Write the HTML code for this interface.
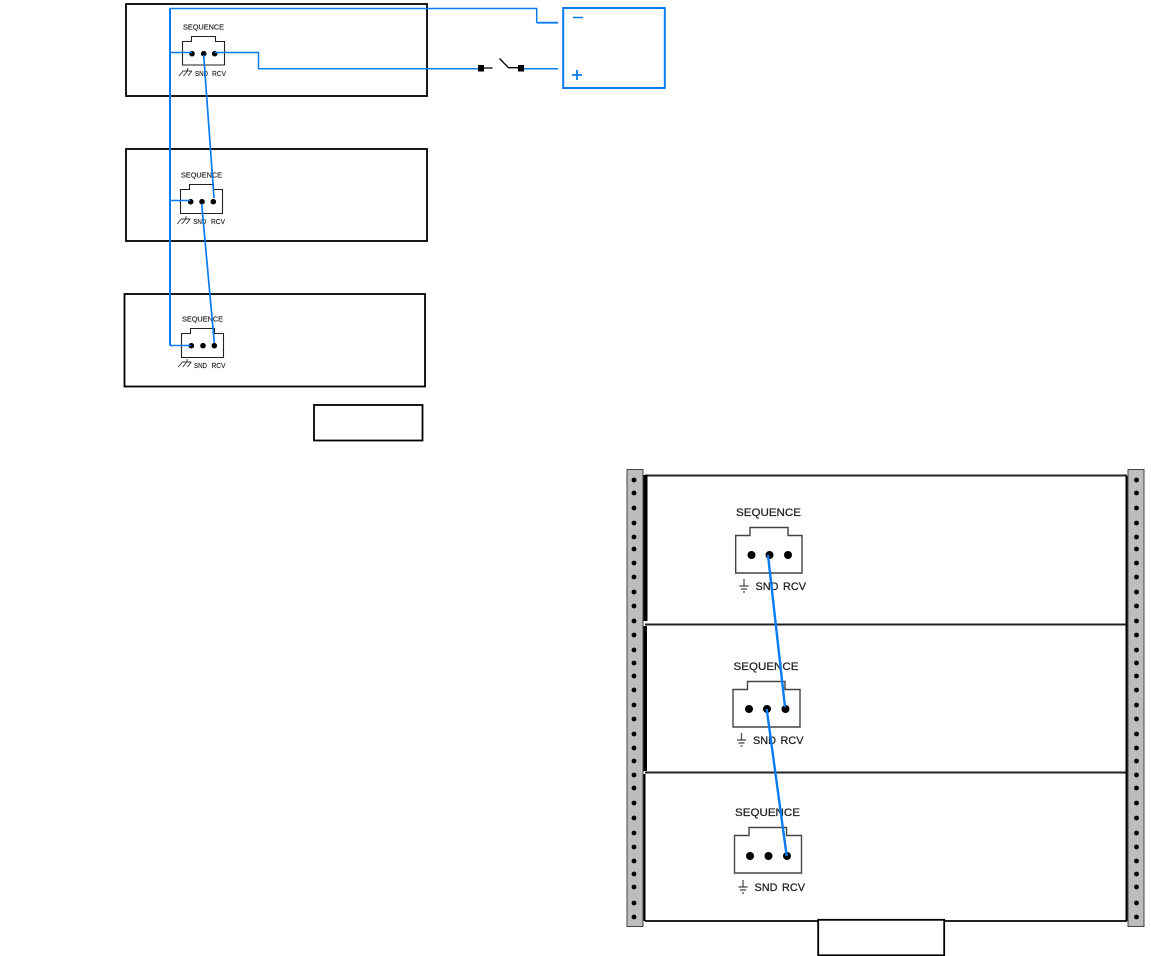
<!DOCTYPE html>
<html>
<head>
<meta charset="utf-8">
<style>
html,body{margin:0;padding:0;background:#fff;width:1151px;height:956px;overflow:hidden}
svg{display:block;position:absolute;left:0;top:0}
text{font-family:"Liberation Sans",sans-serif;fill:#222}
</style>
</head>
<body>
<svg width="1151" height="956" viewBox="0 0 1151 956" xmlns="http://www.w3.org/2000/svg">
<!-- top-left boxes -->
<g fill="none" stroke="#000" stroke-width="1.800">
<rect x="126" y="4" width="301" height="92"/>
<rect x="126" y="149" width="301" height="92"/>
<rect x="124.500" y="294" width="300.500" height="92.500"/>
<rect x="314" y="405" width="108.500" height="35.500"/>
</g>

<!-- small connectors -->
<g fill="none" stroke="#222" stroke-width="1.100">
<path d="M182.500 41.500H191.500V36.500H215.500V41.500H224.500V65H182.500Z"/>
<path d="M180.500 189.500H189.500V184.500H213.500V189.500H222.500V213.500H180.500Z"/>
<path d="M181.500 333.500H190.500V328.500H214.500V333.500H223.500V357.500H181.500Z"/>
</g>
<g fill="#000">
<circle cx="192" cy="53.700" r="2.800"/><circle cx="203.700" cy="53.700" r="2.800"/><circle cx="214.700" cy="53.700" r="2.800"/>
<circle cx="190.700" cy="201.700" r="2.800"/><circle cx="202" cy="201.700" r="2.800"/><circle cx="213.300" cy="201.700" r="2.800"/>
<circle cx="191.300" cy="345.700" r="2.800"/><circle cx="203" cy="345.700" r="2.800"/><circle cx="214.300" cy="345.700" r="2.800"/>
</g>
<g font-size="7.200" stroke="#222" stroke-width="0.150">
<text x="183" y="29.300" textLength="41" lengthAdjust="spacingAndGlyphs">SEQUENCE</text>
<text x="195" y="75.800" textLength="13" lengthAdjust="spacingAndGlyphs">SND</text>
<text x="212" y="75.800" textLength="14" lengthAdjust="spacingAndGlyphs">RCV</text>
<text x="181" y="177.500" textLength="41" lengthAdjust="spacingAndGlyphs">SEQUENCE</text>
<text x="193.300" y="223.800" textLength="13" lengthAdjust="spacingAndGlyphs">SND</text>
<text x="211" y="223.800" textLength="14" lengthAdjust="spacingAndGlyphs">RCV</text>
<text x="182" y="321.300" textLength="41" lengthAdjust="spacingAndGlyphs">SEQUENCE</text>
<text x="194" y="367.800" textLength="13" lengthAdjust="spacingAndGlyphs">SND</text>
<text x="211.500" y="367.800" textLength="14" lengthAdjust="spacingAndGlyphs">RCV</text>
</g>
<!-- small ground symbols -->
<g fill="none" stroke="#333" stroke-width="0.900">
<path d="M183 71H192M187.700 68V71M183 71L179 76M187.500 71L183.500 76M192 71L188 76"/>
<path d="M181.300 219H190.300M186 216V219M181.300 219L177.300 224M185.800 219L181.800 224M190.300 219L186.300 224"/>
<path d="M182.300 362H191.300M187 359V362M182.300 362L178.300 367M186.800 362L182.800 367M191.300 362L187.300 367"/>
</g>

<!-- blue wiring, top diagram -->
<g fill="none" stroke="#0a7cf0" stroke-width="1.500">
<path d="M170 345.500V8.500H536.700V22.700" />
<path d="M536.700 22.700H558" stroke-width="1.800"/>
<path d="M170 345.500H191"/>
<path d="M170 52.500H192"/>
<path d="M170 200.500H190"/>
<path d="M214.700 52.500H258.500V68.700H480"/>
<path d="M522 68.700H558"/>
<path d="M203.700 55L214 198" stroke-width="1.700"/>
<path d="M201.700 204L214.300 343" stroke-width="1.700"/>
<path d="M170 8.500V345.500" stroke-width="2"/>
<rect x="563.200" y="8" width="101.600" height="80" stroke-width="2"/>
<path d="M573 17.500H583" />
<path d="M572 75H582M577 70V80" stroke-width="1.800"/>
</g>
<!-- switch -->
<g fill="#000" stroke="none">
<rect x="478" y="65" width="6" height="6.500"/>
<rect x="518" y="65" width="6" height="6.500"/>
</g>
<path d="M484 68H492.500M499.500 58.500L508.500 67.700H518" fill="none" stroke="#000" stroke-width="1.300"/>

<!-- rack -->
<g fill="none" stroke="#222" stroke-width="2">
<path d="M645 475.500H1127"/>
<path d="M645 624.500H1127"/>
<path d="M645 772.500H1127"/>
<path d="M645 921H1127"/>
</g>
<rect x="643" y="475" width="4.500" height="146" fill="#000"/>
<rect x="643" y="626" width="4" height="145" fill="#000"/>
<rect x="643" y="774" width="2.500" height="147" fill="#000"/>
<rect x="1125.500" y="476" width="3" height="445" fill="#000"/>
<rect x="627" y="469.500" width="16" height="457" fill="#bdbdbd" stroke="#444" stroke-width="1"/>
<rect x="1128" y="469.500" width="16" height="457" fill="#bdbdbd" stroke="#444" stroke-width="1"/>
<g fill="#000">
<circle cx="634" cy="480" r="2.400"/><circle cx="634" cy="493" r="2.400"/><circle cx="634" cy="508" r="2.400"/><circle cx="634" cy="523" r="2.400"/><circle cx="634" cy="537" r="2.400"/><circle cx="634" cy="549" r="2.400"/><circle cx="634" cy="563" r="2.400"/><circle cx="634" cy="577" r="2.400"/><circle cx="634" cy="592" r="2.400"/><circle cx="634" cy="606" r="2.400"/><circle cx="634" cy="621" r="2.400"/><circle cx="634" cy="635" r="2.400"/><circle cx="634" cy="650" r="2.400"/><circle cx="634" cy="663" r="2.400"/><circle cx="634" cy="676" r="2.400"/><circle cx="634" cy="690" r="2.400"/><circle cx="634" cy="705" r="2.400"/><circle cx="634" cy="719" r="2.400"/><circle cx="634" cy="734" r="2.400"/><circle cx="634" cy="748" r="2.400"/><circle cx="634" cy="761" r="2.400"/><circle cx="634" cy="775" r="2.400"/><circle cx="634" cy="788" r="2.400"/><circle cx="634" cy="803" r="2.400"/><circle cx="634" cy="818" r="2.400"/><circle cx="634" cy="833" r="2.400"/><circle cx="634" cy="847" r="2.400"/><circle cx="634" cy="861" r="2.400"/><circle cx="634" cy="874" r="2.400"/><circle cx="634" cy="887" r="2.400"/><circle cx="634" cy="903" r="2.400"/><circle cx="634" cy="917" r="2.400"/>
<circle cx="1136.500" cy="480" r="2.400"/><circle cx="1136.500" cy="493" r="2.400"/><circle cx="1136.500" cy="508" r="2.400"/><circle cx="1136.500" cy="523" r="2.400"/><circle cx="1136.500" cy="537" r="2.400"/><circle cx="1136.500" cy="549" r="2.400"/><circle cx="1136.500" cy="563" r="2.400"/><circle cx="1136.500" cy="577" r="2.400"/><circle cx="1136.500" cy="592" r="2.400"/><circle cx="1136.500" cy="606" r="2.400"/><circle cx="1136.500" cy="621" r="2.400"/><circle cx="1136.500" cy="635" r="2.400"/><circle cx="1136.500" cy="650" r="2.400"/><circle cx="1136.500" cy="663" r="2.400"/><circle cx="1136.500" cy="676" r="2.400"/><circle cx="1136.500" cy="690" r="2.400"/><circle cx="1136.500" cy="705" r="2.400"/><circle cx="1136.500" cy="719" r="2.400"/><circle cx="1136.500" cy="734" r="2.400"/><circle cx="1136.500" cy="748" r="2.400"/><circle cx="1136.500" cy="761" r="2.400"/><circle cx="1136.500" cy="775" r="2.400"/><circle cx="1136.500" cy="788" r="2.400"/><circle cx="1136.500" cy="803" r="2.400"/><circle cx="1136.500" cy="818" r="2.400"/><circle cx="1136.500" cy="833" r="2.400"/><circle cx="1136.500" cy="847" r="2.400"/><circle cx="1136.500" cy="861" r="2.400"/><circle cx="1136.500" cy="874" r="2.400"/><circle cx="1136.500" cy="887" r="2.400"/><circle cx="1136.500" cy="903" r="2.400"/><circle cx="1136.500" cy="917" r="2.400"/>
</g>

<!-- rack connectors -->
<g fill="none" stroke="#444" stroke-width="1.400">
<path d="M735.700 535.500H750V527.500H788V535.500H802V573H735.700Z"/>
<path d="M733 689.500H747.500V681.500H785V689.500H800V727H733Z"/>
<path d="M734.500 835.500H749V827.500H786.500V835.500H801.500V873H734.500Z"/>
</g>
<g fill="#000">
<circle cx="751.500" cy="555" r="4"/><circle cx="769.500" cy="555" r="4"/><circle cx="788" cy="555" r="4"/>
<circle cx="749" cy="709" r="4"/><circle cx="767" cy="709" r="4"/><circle cx="785.500" cy="709" r="4"/>
<circle cx="750" cy="856" r="4"/><circle cx="768.500" cy="856" r="4"/><circle cx="787" cy="856" r="4"/>
</g>
<g font-size="11" stroke="#222" stroke-width="0.250">
<text x="736" y="516" textLength="65" lengthAdjust="spacingAndGlyphs">SEQUENCE</text>
<text x="755.500" y="590" textLength="23" lengthAdjust="spacingAndGlyphs">SND</text>
<text x="783" y="590" textLength="23" lengthAdjust="spacingAndGlyphs">RCV</text>
<text x="733.500" y="670" textLength="65" lengthAdjust="spacingAndGlyphs">SEQUENCE</text>
<text x="753" y="744" textLength="23" lengthAdjust="spacingAndGlyphs">SND</text>
<text x="780.500" y="744" textLength="23" lengthAdjust="spacingAndGlyphs">RCV</text>
<text x="735" y="816" textLength="65" lengthAdjust="spacingAndGlyphs">SEQUENCE</text>
<text x="754.500" y="891" textLength="23" lengthAdjust="spacingAndGlyphs">SND</text>
<text x="782" y="891" textLength="23" lengthAdjust="spacingAndGlyphs">RCV</text>
</g>
<!-- rack ground symbols -->
<g fill="none" stroke="#444" stroke-width="1.200">
<path d="M744 579V586M739.500 586H748.500M741 589H747M743 592H745"/>
<path d="M741.500 733V740M737 740H746M738.500 743H744.500M740.500 746H742.500"/>
<path d="M743 880V887M738.500 887H747.500M740 890H746M742 893H744"/>
</g>
<!-- rack blue wires -->
<g fill="none" stroke="#0a7cf0" stroke-width="2.400">
<path d="M768 555L785 707"/>
<path d="M766.700 709L786.700 856"/>
</g>
<rect x="818.200" y="919.800" width="126" height="35.500" fill="#fff" stroke="#000" stroke-width="1.800"/>
</svg>
</body>
</html>
